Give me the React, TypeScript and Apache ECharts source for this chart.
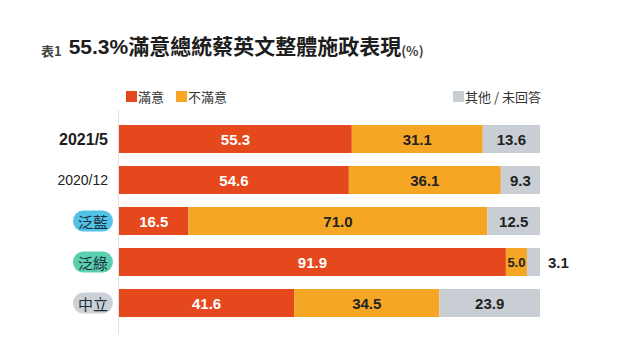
import React, { useEffect, useRef } from "react";
import * as echarts from "echarts";

const categories = ["2021/5", "2020/12", "泛藍", "泛綠", "中立"];
const seriesNames = ["滿意", "不滿意", "其他 / 未回答"];
const satisfied = [55.3, 54.6, 16.5, 91.9, 41.6];
const dissatisfied = [31.1, 36.1, 71.0, 5.0, 34.5];
const other = [13.6, 9.3, 12.5, 3.1, 23.9];
const titleMain = "55.3%滿意總統蔡英文整體施政表現";

const FONT = "'Liberation Sans', Arial, 'Noto Sans CJK TC', sans-serif";
const CJK = "'Noto Sans CJK TC', 'Liberation Sans', sans-serif";
const RED = "#E4481C";
const ORANGE = "#F6A625";
const GRAY = "#C8CED4";

export default function App() {
  const ref = useRef<HTMLDivElement>(null);
  useEffect(() => {
    document.body.style.margin = "0";
    const chart = echarts.init(ref.current!, null, { renderer: "svg" });
    const lbl = (color: string) => ({
      show: true,
      position: "inside" as const,
      color,
      fontFamily: FONT,
      fontWeight: "bold" as const,
      fontSize: 15,
      formatter: (p: any) => Number(p.value).toFixed(1),
    });
    const pillKey = (c: string) =>
      c === "泛藍" ? "blue" : c === "泛綠" ? "green" : c === "中立" ? "grayp" : c === "2021/5" ? "bold" : "norm";
    const pill = (bg: string) => ({
      backgroundColor: bg,
      borderRadius: 11,
      padding: [3, 5, 3, 5],
      fontSize: 15,
      lineHeight: 15,
      color: "#1b2f3d",
      fontFamily: CJK,
    });
    const option: any = {
      animation: false,
      backgroundColor: "#ffffff",
      title: {
        left: 36,
        top: 31,
        text: `{a|表1} {b|${titleMain}}{c|(%)}`,
        textStyle: {
          rich: {
            a: { fontSize: 13, color: "#444", fontFamily: CJK, verticalAlign: "bottom", padding: [0, 2, 0, 0] },
            b: { fontSize: 21, fontWeight: "bold", color: "#1d1d1d", fontFamily: FONT },
            c: { fontSize: 13, color: "#444", fontFamily: CJK, verticalAlign: "bottom" },
          },
        },
      },
      legend: [
        {
          data: [seriesNames[0], seriesNames[1]],
          left: 121,
          top: 85,
          icon: "rect",
          itemWidth: 11,
          itemHeight: 11,
          itemGap: 12,
          textStyle: { fontSize: 13, color: "#333", fontFamily: CJK, padding: [0, 0, 0, -4] },
        },
        {
          data: [seriesNames[2]],
          left: 448,
          top: 85,
          icon: "rect",
          itemWidth: 11,
          itemHeight: 11,
          textStyle: { fontSize: 13, color: "#333", fontFamily: CJK, padding: [0, 0, 0, -4] },
        },
      ],
      grid: { left: 119, width: 421, top: 118.5, height: 205 },
      xAxis: { type: "value", min: 0, max: 100, show: false },
      yAxis: {
        type: "category",
        data: categories,
        inverse: true,
        axisLine: { show: false },
        axisTick: { show: false },
        axisLabel: {
          margin: 6,
          formatter: (v: string) => `{${pillKey(v)}|${v}}`,
          rich: {
            bold: { fontSize: 16, fontWeight: "bold", color: "#1d1d1d", fontFamily: FONT, padding: [0, 5, 0, 0] },
            norm: { fontSize: 14, color: "#222", fontFamily: FONT, padding: [0, 5, 0, 0] },
            blue: pill("#52C3E6"),
            green: pill("#5BD0AE"),
            grayp: pill("#CBD1D6"),
          },
        },
      },
      graphic: [
        {
          type: "line",
          shape: { x1: 118.5, y1: 110, x2: 118.5, y2: 334 },
          style: { stroke: "#e2e2e2", lineWidth: 1 },
          z: 0,
        },
      ],
      series: [
        {
          name: seriesNames[0],
          type: "bar",
          stack: "t",
          barWidth: 28,
          itemStyle: { color: RED },
          label: lbl("#ffffff"),
          data: satisfied,
        },
        {
          name: seriesNames[1],
          type: "bar",
          stack: "t",
          barWidth: 28,
          itemStyle: { color: ORANGE },
          label: lbl("#222"),
          data: dissatisfied.map((v) =>
            v < 6 ? { value: v, label: { fontSize: 13, letterSpacing: -1 } } : v
          ),
        },
        {
          name: seriesNames[2],
          type: "bar",
          stack: "t",
          barWidth: 28,
          itemStyle: { color: GRAY },
          label: lbl("#222"),
          data: other.map((v) =>
            v < 5 ? { value: v, label: { position: "right", distance: 8 } } : v
          ),
        },
      ],
    };
    chart.setOption(option);
    return () => chart.dispose();
  }, []);
  return <div ref={ref} style={{ width: 640, height: 362 }} />;
}
